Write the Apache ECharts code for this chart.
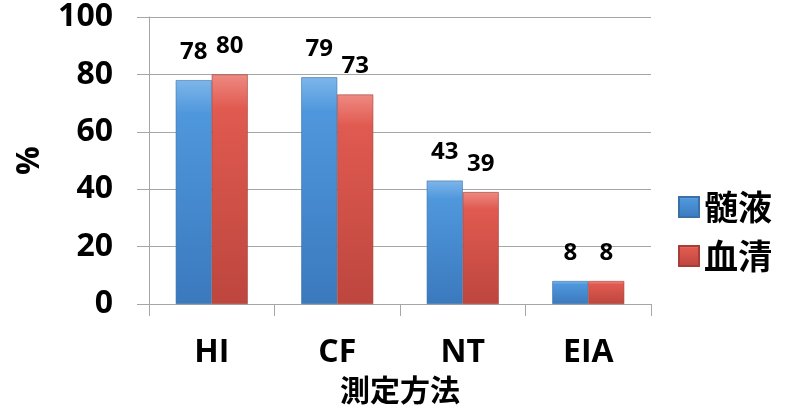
<!DOCTYPE html>
<html>
<head>
<meta charset="utf-8">
<script src="https://cdn.jsdelivr.net/npm/echarts@6/dist/echarts.min.js"></script>
<style>
  html, body { margin: 0; padding: 0; background: #fff; }
  #chart { width: 795px; height: 407px; }
</style>
</head>
<body>
<div id="chart"></div>
<script>
// データ
var categories = ['HI', 'CF', 'NT', 'EIA'];
var csfValues = [78, 79, 43, 8];     // 髄液
var serumValues = [80, 73, 39, 8];   // 血清
var seriesNames = ['髄液', '血清'];

var FONT = '"Open Sans", "Noto Sans CJK JP", sans-serif';
var CJK = '"Noto Sans CJK JP", sans-serif';

// 立体っぽいグラデーション
function barColor(top, mid, bottom) {
    return new echarts.graphic.LinearGradient(0, 0, 0, 1, [
        { offset: 0, color: top },
        { offset: 0.15, color: mid },
        { offset: 1, color: bottom }
    ]);
}

var myChart = echarts.init(document.getElementById('chart'));

var labelStyle = {
    show: true,
    position: 'top',
    distance: 16,
    color: '#000',
    fontFamily: FONT,
    fontWeight: 'bold',
    fontSize: 24
};

var option = {
    animation: false,
    grid: { left: 149, right: 144, top: 17, bottom: 103, outerBoundsMode: 'none' },
    legend: {
        orient: 'vertical',
        left: 673,
        top: 185,
        itemWidth: 20,
        itemHeight: 20,
        itemGap: 15,
        icon: 'rect',
        textStyle: {
            fontFamily: CJK,
            fontWeight: 'bold',
            fontSize: 34,
            color: '#000'
        },
        data: seriesNames
    },
    xAxis: {
        type: 'category',
        data: categories,
        name: '測定方法',
        nameLocation: 'middle',
        nameGap: 71,
        nameTextStyle: { fontFamily: CJK, fontWeight: 'bold', fontSize: 30, color: '#000' },
        axisLine: { lineStyle: { color: '#a6a6a6', width: 1 } },
        axisTick: { show: true, length: 12, lineStyle: { color: '#a6a6a6' } },
        axisLabel: { margin: 33, fontFamily: FONT, fontWeight: 'bold', fontSize: 32, color: '#000' }
    },
    yAxis: {
        type: 'value',
        min: 0,
        max: 100,
        interval: 20,
        name: '%',
        nameLocation: 'middle',
        nameGap: 103,
        nameRotate: 90,
        nameTextStyle: { fontFamily: FONT, fontWeight: 'bold', fontSize: 32, color: '#000' },
        axisLine: { show: true, lineStyle: { color: '#a6a6a6', width: 1 } },
        axisTick: { show: true, length: 12, lineStyle: { color: '#a6a6a6' } },
        axisLabel: { margin: 36, fontFamily: FONT, fontWeight: 'bold', fontSize: 32, color: '#000' },
        splitLine: { lineStyle: { color: '#a6a6a6', width: 1 } }
    },
    series: [
        {
            name: seriesNames[0],
            type: 'bar',
            barWidth: 36,
            barGap: '0%',
            data: csfValues,
            label: labelStyle,
            itemStyle: {
                color: barColor('#7db6ea', '#4f97dc', '#3b79bd'),
                borderColor: '#3a6fa8',
                borderWidth: 0.6
            }
        },
        {
            name: seriesNames[1],
            type: 'bar',
            barWidth: 36,
            data: serumValues,
            label: labelStyle,
            itemStyle: {
                color: barColor('#ee8a82', '#e05a50', '#bd463e'),
                borderColor: '#a53e37',
                borderWidth: 0.6
            }
        }
    ]
};

myChart.setOption(option);
</script>
</body>
</html>
